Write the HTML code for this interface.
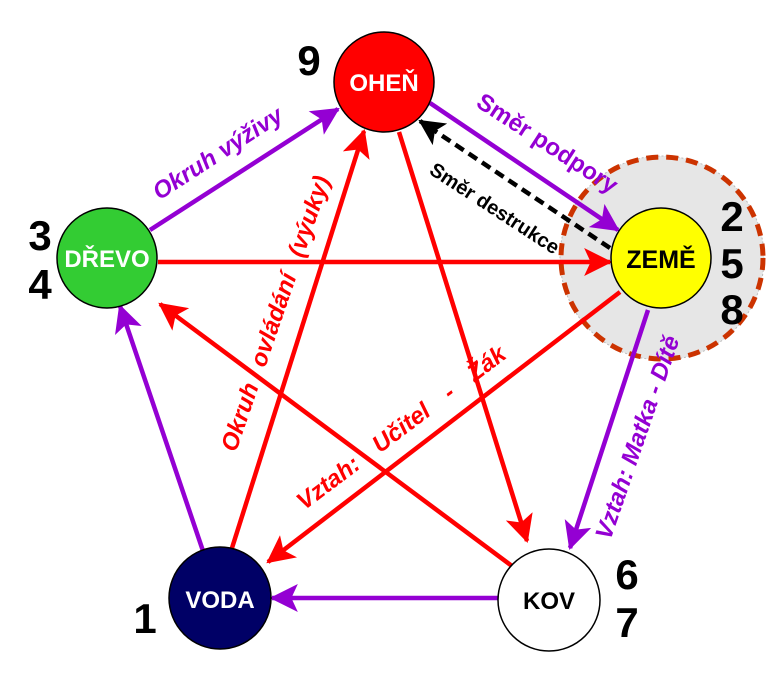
<!DOCTYPE html>
<html><head><meta charset="utf-8"><style>html,body{margin:0;padding:0;background:#fff}svg{display:block}</style></head>
<body>
<svg width="768" height="680" viewBox="0 0 768 680" xmlns="http://www.w3.org/2000/svg" font-family="Liberation Sans, DejaVu Sans, sans-serif" font-weight="bold">
<defs>
<marker id="r" markerUnits="userSpaceOnUse" markerWidth="28" markerHeight="28" viewBox="0 0 26 26" refX="24" refY="13" orient="auto"><path d="M0,0 L26,13 L0,26 L6,13 Z" fill="#ff0000"/></marker>
<marker id="p" markerUnits="userSpaceOnUse" markerWidth="28" markerHeight="28" viewBox="0 0 26 26" refX="24" refY="13" orient="auto"><path d="M0,0 L26,13 L0,26 L6,13 Z" fill="#9400d3"/></marker>
<marker id="k" markerUnits="userSpaceOnUse" markerWidth="26" markerHeight="26" viewBox="0 0 26 26" refX="24" refY="13" orient="auto"><path d="M0,0 L26,13 L0,26 L6,13 Z" fill="#000"/></marker>
</defs>
<circle cx="662" cy="258" r="102" fill="#e6e6e6" stroke="#bbb" stroke-width="1" stroke-dasharray="2,2"/>
<circle cx="662" cy="258" r="101" fill="none" stroke="#cc3300" stroke-width="5" stroke-dasharray="12,8"/>
<g stroke-width="4.5" fill="none">
<line x1="150" y1="230" x2="338" y2="109" stroke="#9400d3" marker-end="url(#p)"/>
<line x1="430" y1="103" x2="618" y2="230" stroke="#9400d3" marker-end="url(#p)"/>
<line x1="610" y1="248" x2="420" y2="121" stroke="#000" stroke-dasharray="10,6" marker-end="url(#k)"/>
<line x1="158" y1="262" x2="610" y2="262" stroke="#ff0000" marker-end="url(#r)"/>
<line x1="620" y1="292" x2="268" y2="562" stroke="#ff0000" marker-end="url(#r)"/>
<line x1="648" y1="310" x2="570" y2="548" stroke="#9400d3" marker-end="url(#p)"/>
<line x1="399" y1="132" x2="527" y2="541" stroke="#ff0000" marker-end="url(#r)"/>
<line x1="512" y1="566" x2="160" y2="304" stroke="#ff0000" marker-end="url(#r)"/>
<line x1="232" y1="548" x2="364" y2="131" stroke="#ff0000" marker-end="url(#r)"/>
<line x1="203" y1="551" x2="120" y2="306" stroke="#9400d3" marker-end="url(#p)"/>
<line x1="498" y1="598" x2="272" y2="598" stroke="#9400d3" marker-end="url(#p)"/>
</g>
<circle cx="384" cy="82" r="50" fill="#ff0000" stroke="#000" stroke-width="1.5"/>
<circle cx="107" cy="258" r="50" fill="#33cc33" stroke="#000" stroke-width="1.5"/>
<circle cx="661" cy="258" r="50" fill="#ffff00" stroke="#000" stroke-width="1.5"/>
<circle cx="220" cy="598" r="51" fill="#000066" stroke="#000" stroke-width="1.5"/>
<circle cx="549" cy="600" r="51" fill="#fff" stroke="#000" stroke-width="1.5"/>
<g font-size="24" text-anchor="middle">
<text x="384" y="91" fill="#fff">OHEŇ</text>
<text x="107" y="267" fill="#fff">DŘEVO</text>
<text x="661" y="268" fill="#000" font-size="25">ZEMĚ</text>
<text x="220" y="608" fill="#fff">VODA</text>
<text x="549" y="609" fill="#000">KOV</text>
</g>
<g font-size="42" text-anchor="middle" fill="#000">
<text x="309" y="75">9</text>
<text x="40" y="250">3</text>
<text x="40" y="299">4</text>
<text x="732" y="231">2</text>
<text x="732" y="278">5</text>
<text x="732" y="324">8</text>
<text x="627" y="589">6</text>
<text x="627" y="637">7</text>
<text x="145" y="633">1</text>
</g>
<g font-size="24" text-anchor="middle">
<text transform="translate(222,160) rotate(-33)" fill="#9400d3" font-style="italic">Okruh výživy</text>
<text transform="translate(543,150) rotate(33)" fill="#9400d3">Směr podpory</text>
<text transform="translate(491,214) rotate(33)" fill="#000" font-size="20">Směr destrukce</text>
<text transform="translate(283,316) rotate(-71)" fill="#ff0000" font-style="italic" word-spacing="12">Okruh ovládání (výuky)</text>
<text transform="translate(406,434) rotate(-37)" fill="#ff0000" font-style="italic" word-spacing="16">Vztah: Učitel - Žák</text>
<text transform="translate(645,440) rotate(-71)" fill="#9400d3" font-style="italic">Vztah: Matka - Dítě</text>
</g>
</svg>
</body></html>
